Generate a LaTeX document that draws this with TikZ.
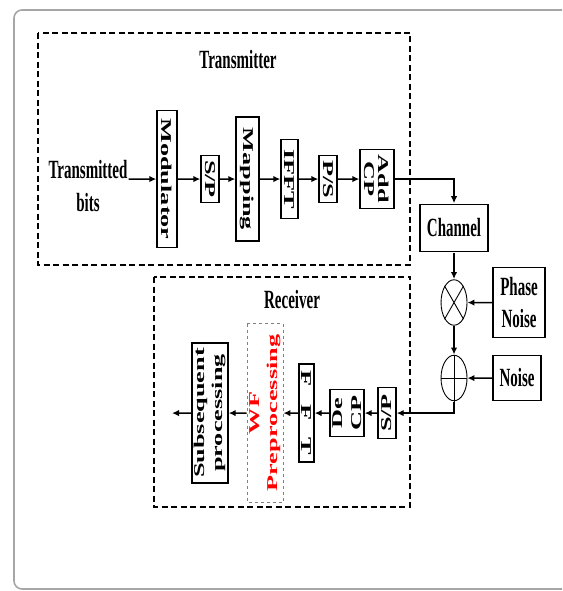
\documentclass[tikz,border=0pt]{standalone}
\usepackage{fontspec}
\setmainfont{Liberation Serif}
\usetikzlibrary{arrows.meta}

\begin{document}
\begin{tikzpicture}[
  x=1pt, y=-0.5714pt, yscale=1.75,
  every node/.style={transform shape, font=\fontsize{15}{18.5}\selectfont\bfseries},
  blk/.style={draw, line width=1.4pt, inner sep=0pt, align=center},
  vblk/.style={blk, rotate=-90},
  rblk/.style={blk, rotate=90},
  mixer/.style={draw, circle, line width=0.9pt, minimum size=26pt, inner sep=0pt},
  group/.style={line width=1.4pt, dash pattern=on 6pt off 3.5pt},
  arr/.style={line width=1.5pt, -{Latex[length=7pt,width=6.5pt]}}
]
  \useasboundingbox (0,0) rectangle (562,591);
  % outer frame, open on the right
  \draw[gray!70, line width=1.6pt, rounded corners=8pt] (562,10) -- (14,10) -- (14,589) -- (562,589);

  % transmitter
  \draw[group] (38,33) rectangle (410,265);
  \node (txlabel) at (238,60) {Transmitter};
  \node[align=center, inner sep=1pt] (bits) at (88,186) {Transmitted\\bits};
  \node[vblk, minimum width=78pt, minimum height=20pt] (modu) at (167,179) {Modulator};
  \node[vblk, minimum width=27pt, minimum height=18pt] (sp1) at (210,179) {S/P};
  \node[vblk, minimum width=71pt, minimum height=23pt] (mapping) at (247.5,179) {Mapping};
  \node[vblk, minimum width=45pt, minimum height=17pt] (ifft) at (289.5,179) {IFFT};
  \node[vblk, minimum width=27pt, minimum height=18pt] (ps1) at (328,179) {P/S};
  \node[vblk, minimum width=34pt, minimum height=34pt,
        font=\fontsize{15}{14}\selectfont\bfseries] (addcp) at (377,179) {Add\\CP};
  \draw[arr] (bits.east |- modu) -- (modu);
  \draw[arr] (modu) -- (sp1);
  \draw[arr] (sp1) -- (mapping);
  \draw[arr] (mapping) -- (ifft);
  \draw[arr] (ifft) -- (ps1);
  \draw[arr] (ps1) -- (addcp);

  % channel and impairments
  \node[blk, minimum width=68pt, minimum height=27pt] (channel) at (454,228) {Channel};
  \node[mixer] (mult) at (454,302.5) {};
  \node[mixer] (add) at (454,378) {};
  \draw[line width=0.9pt] (mult.north west) -- (mult.south east) (mult.north east) -- (mult.south west);
  \draw[line width=0.9pt] (add.north) -- (add.south) (add.west) -- (add.east);
  \node[blk, minimum width=52pt, minimum height=40pt] (pn) at (519,302.5) {Phase\\Noise};
  \node[blk, minimum width=48pt, minimum height=26pt] (noise) at (517,378) {Noise};
  \draw[arr] (addcp) -| (channel);
  \draw[arr] (channel) -- (mult);
  \draw[arr] (mult) -- (add);
  \draw[arr] (pn) -- (mult);
  \draw[arr] (noise) -- (add);

  % receiver
  \draw[group] (154,277) rectangle (410,507);
  \node (rxlabel) at (292,300) {Receiver};
  \node[rblk, minimum width=29pt, minimum height=18pt] (rsp) at (387,413) {S/P};
  \node[rblk, minimum width=27pt, minimum height=34pt] (decp) at (347,413) {De\\CP};
  \node[vblk, minimum width=56pt, minimum height=15pt] (fft) at (306.5,413) {F\hspace{10pt}F\hspace{10pt}T};
  \node[rblk, draw=black!50, line width=0.8pt, dashed, text=red,
        minimum width=102pt, minimum height=36pt] (wf) at (265,413) {WF\\Preprocessing};
  \node[rblk, minimum width=80pt, minimum height=36pt] (subs) at (210,413) {Subsequent\\processing};
  \coordinate (out) at (172,413);
  \draw[arr] (add) |- (rsp);
  \draw[arr] (rsp) -- (decp);
  \draw[arr] (decp) -- (fft);
  \draw[arr] (fft) -- (wf);
  \draw[arr] (wf) -- (subs);
  \draw[arr] (subs) -- (out);
\end{tikzpicture}
\end{document}
